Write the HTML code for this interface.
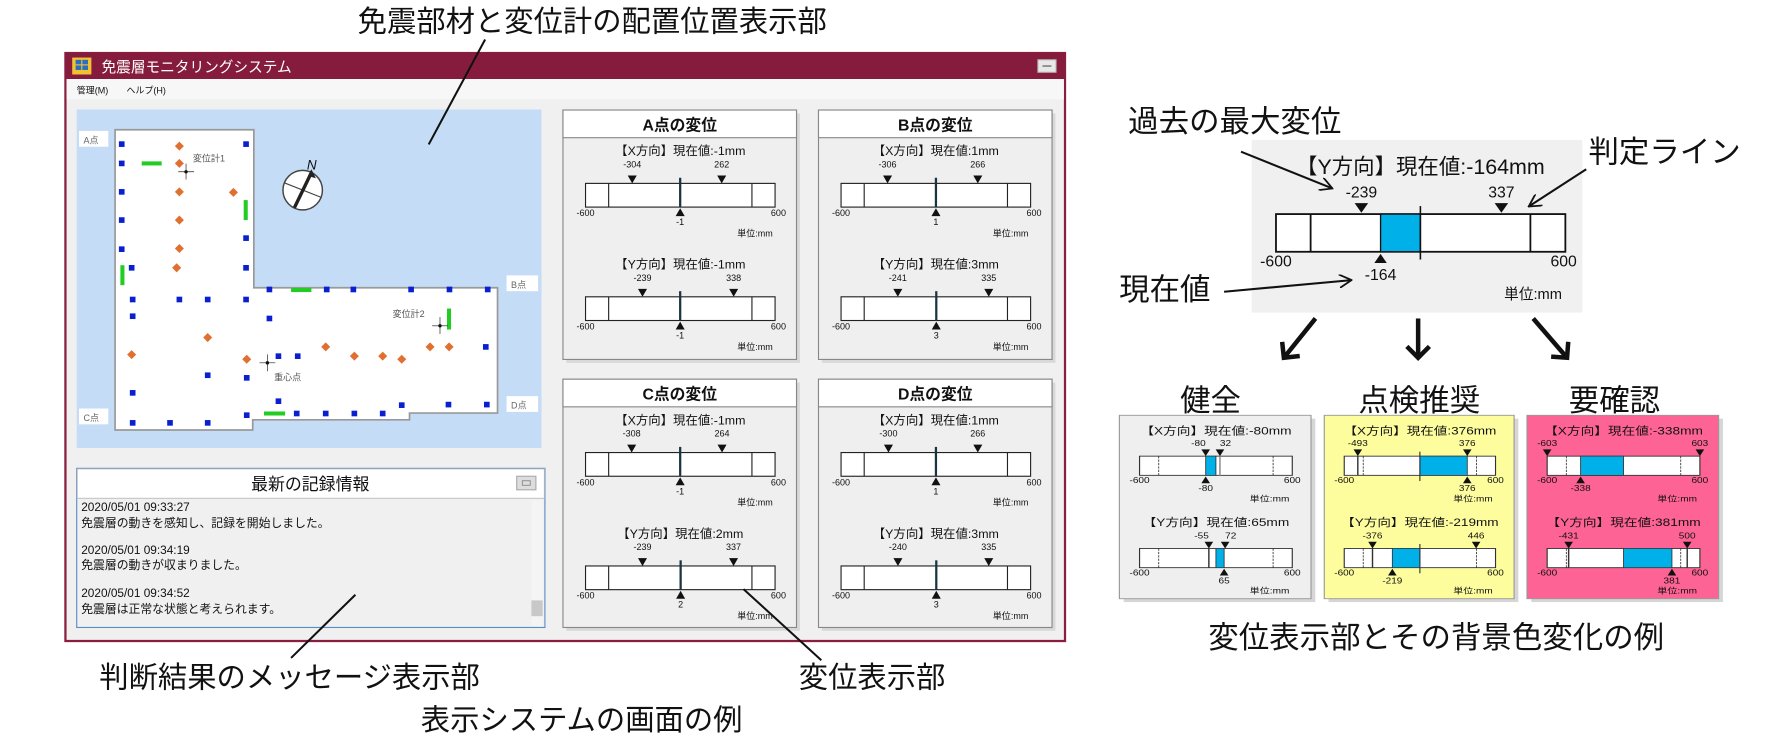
<!DOCTYPE html>
<html><head><meta charset="utf-8"><style>
html,body{margin:0;padding:0;background:#fff;width:1769px;height:755px;overflow:hidden}
svg{display:block}
text{font-family:"Liberation Sans","Noto Sans CJK JP",sans-serif;fill:#111}
.t8{font-size:8px}.t7{font-size:7px}
</style></head><body>
<svg width="1769" height="755" viewBox="0 0 1568 669" preserveAspectRatio="none" xmlns="http://www.w3.org/2000/svg">
<defs>
<g id="bar"><rect x="20" y="0" width="168" height="21" fill="#fff" stroke="#222" stroke-width="1"/><line x1="40.5" y1="0" x2="40.5" y2="21" stroke="#222"/><line x1="167.5" y1="0" x2="167.5" y2="21" stroke="#222"/></g>
<g id="sbar"><rect x="14" y="0" width="106" height="17" fill="#fff" stroke="#333" stroke-width="0.8"/><line x1="27.3" y1="0" x2="27.3" y2="17" stroke="#333" stroke-width="0.6" stroke-dasharray="2,1"/><line x1="106.7" y1="0" x2="106.7" y2="17" stroke="#333" stroke-width="0.6" stroke-dasharray="2,1"/></g>
<marker id="ah" markerWidth="12" markerHeight="12" refX="11" refY="6" orient="auto" markerUnits="userSpaceOnUse"><path d="M0,0 L11,6 L0,12" fill="none" stroke="#111" stroke-width="1.6"/></marker>
<marker id="bh" markerWidth="24" markerHeight="24" refX="12" refY="12" orient="auto" markerUnits="userSpaceOnUse"><path d="M2,2 L12,12 L2,22" fill="none" stroke="#111" stroke-width="4"/></marker>
</defs>

<!-- top caption -->
<text x="317" y="28" style="font-size:26px">免震部材と変位計の配置位置表示部</text>

<!-- window -->
<rect x="58" y="47" width="886" height="521" fill="#f0f0f0" stroke="#8a1e3e" stroke-width="2"/>
<rect x="58" y="47" width="886" height="23" fill="#861c3d"/>
<rect x="64" y="51" width="17" height="15" fill="#f2c230"/><rect x="67" y="53" width="11" height="9" fill="#2a6fc0"/><line x1="72.5" y1="53" x2="72.5" y2="62" stroke="#f2c230"/><line x1="67" y1="57.5" x2="78" y2="57.5" stroke="#f2c230"/>
<text x="90" y="64" style="font-size:13px;fill:#fff">免震層モニタリングシステム</text>
<rect x="920" y="53" width="16" height="11" fill="#e8e8e8" stroke="#bbb"/><line x1="924" y1="58.5" x2="932" y2="58.5" stroke="#555"/>
<rect x="59" y="70" width="884" height="18" fill="#f7f7f7"/>
<text x="68" y="83" class="t8">管理(M)</text><text x="112" y="83" class="t8">ヘルプ(H)</text>

<!-- map -->
<rect x="68" y="97" width="412" height="300" fill="#c4dcf6"/>
<polygon points="102,115 225,115 225,255 441,255 441,366 363,366 363,372 224,372 224,381 102,381" fill="#fff" stroke="#999" stroke-width="1.5"/>
<rect x="70" y="116" width="26" height="14" fill="#fff"/><text x="74" y="127" class="t8" style="fill:#666">A点</text>
<rect x="449" y="244" width="28" height="14" fill="#fff"/><text x="453" y="255" class="t8" style="fill:#666">B点</text>
<rect x="70" y="362" width="26" height="14" fill="#fff"/><text x="74" y="373" class="t8" style="fill:#666">C点</text>
<rect x="449" y="351" width="28" height="14" fill="#fff"/><text x="453" y="362" class="t8" style="fill:#666">D点</text>
<g fill="#0a1fd0">
<rect x="105.4" y="125.2" width="5" height="5"/><rect x="215.6" y="125.2" width="5" height="5"/><rect x="105.4" y="142.3" width="5" height="5"/><rect x="105.4" y="167.5" width="5" height="5"/><rect x="105.4" y="192.5" width="5" height="5"/><rect x="215.6" y="208.5" width="5" height="5"/><rect x="105.4" y="218.3" width="5" height="5"/><rect x="114.2" y="234.8" width="5" height="5"/><rect x="215.6" y="234.8" width="5" height="5"/><rect x="115.1" y="262.9" width="5" height="5"/><rect x="156.5" y="262.9" width="5" height="5"/><rect x="181.6" y="262.9" width="5" height="5"/><rect x="215.6" y="262.9" width="5" height="5"/><rect x="115.1" y="277.7" width="5" height="5"/><rect x="236.3" y="279.7" width="5" height="5"/><rect x="236.3" y="254" width="5" height="5"/><rect x="287.1" y="254" width="5" height="5"/><rect x="310.7" y="254" width="5" height="5"/><rect x="361.9" y="254" width="5" height="5"/><rect x="395.9" y="254" width="5" height="5"/><rect x="429.8" y="254" width="5" height="5"/><rect x="428.1" y="304.9" width="5" height="5"/><rect x="244.3" y="313.1" width="5" height="5"/><rect x="261.4" y="313.1" width="5" height="5"/><rect x="181.6" y="330" width="5" height="5"/><rect x="216.2" y="332.3" width="5" height="5"/><rect x="115.1" y="345.6" width="5" height="5"/><rect x="244.3" y="353" width="5" height="5"/><rect x="353.6" y="356.5" width="5" height="5"/><rect x="395" y="356" width="5" height="5"/><rect x="429" y="356" width="5" height="5"/><rect x="115.1" y="372.2" width="5" height="5"/><rect x="148.2" y="372.2" width="5" height="5"/><rect x="181.6" y="372.2" width="5" height="5"/><rect x="216.2" y="365.4" width="5" height="5"/><rect x="260.5" y="363.9" width="5" height="5"/><rect x="286.2" y="363.9" width="5" height="5"/><rect x="311.6" y="363.9" width="5" height="5"/><rect x="336.7" y="363.9" width="5" height="5"/>
</g>
<g fill="#e07030">
<path d="M159,125.5l4,4-4,4-4-4z"/><path d="M159,140.8l4,4-4,4-4-4z"/><path d="M159,166l4,4-4,4-4-4z"/><path d="M206.9,166.5l4,4-4,4-4-4z"/><path d="M159,191l4,4-4,4-4-4z"/><path d="M159,216.2l4,4-4,4-4-4z"/><path d="M156.6,233.3l4,4-4,4-4-4z"/><path d="M184.1,295.1l4,4-4,4-4-4z"/><path d="M116.7,310.2l4,4-4,4-4-4z"/><path d="M218.7,314.3l4,4-4,4-4-4z"/><path d="M288.7,303.4l4,4-4,4-4-4z"/><path d="M314.1,311.6l4,4-4,4-4-4z"/><path d="M339.2,311.6l4,4-4,4-4-4z"/><path d="M356.1,314.3l4,4-4,4-4-4z"/><path d="M381.2,303.4l4,4-4,4-4-4z"/><path d="M398.1,303.4l4,4-4,4-4-4z"/>
</g>
<g fill="#22cc22">
<rect x="125.6" y="143" width="17.7" height="3.6"/><rect x="216" y="177.3" width="3.6" height="17.7"/><rect x="106.7" y="235" width="3.6" height="17.7"/><rect x="258" y="255.2" width="18" height="3.6"/><rect x="396.2" y="273.4" width="3.6" height="18.6"/><rect x="234" y="364.6" width="18.7" height="3.6"/>
</g>
<g stroke="#222" stroke-width="0.6">
<line x1="158" y1="152.2" x2="172" y2="152.2"/><line x1="164.9" y1="145" x2="164.9" y2="159"/>
<line x1="383" y1="288.7" x2="397" y2="288.7"/><line x1="390" y1="281" x2="390" y2="296"/>
<line x1="230" y1="321.5" x2="244" y2="321.5"/><line x1="237" y1="314" x2="237" y2="329"/>
</g>
<circle cx="164.9" cy="152.2" r="1.5" fill="#111"/><circle cx="390" cy="288.7" r="1.5" fill="#111"/><circle cx="237" cy="321.5" r="1.5" fill="#111"/>
<text x="171" y="143" class="t8" style="fill:#555">変位計1</text>
<text x="348" y="281" class="t8" style="fill:#555">変位計2</text>
<text x="243" y="337" class="t8" style="fill:#555">重心点</text>
<circle cx="268.3" cy="168.5" r="17.5" fill="#fff" stroke="#444" stroke-width="1.3"/>
<line x1="252" y1="162" x2="285" y2="175" stroke="#444" stroke-width="1"/>
<line x1="261" y1="184" x2="276" y2="153" stroke="#222" stroke-width="3"/>
<path d="M276,150 l4,8 l-7,-2z" fill="#222"/>
<text x="272" y="150" style="font-size:12px;font-style:italic">N</text>
<line x1="430" y1="35" x2="380" y2="128" stroke="#111" stroke-width="1.8"/>

<!-- message panel -->
<rect x="68" y="415" width="415" height="141" fill="#f0f0f0" stroke="#5a8cc8" stroke-width="1"/>
<rect x="68.5" y="415.5" width="414" height="26" fill="#fff" stroke="#bbb" stroke-width="0.8"/>
<text x="275" y="434" text-anchor="middle" style="font-size:15px">最新の記録情報</text>
<rect x="458" y="422" width="17" height="12" fill="#ddd" stroke="#aaa"/><rect x="463" y="426" width="7" height="4" fill="none" stroke="#888" stroke-width="0.8"/>
<rect x="471" y="443" width="10" height="112" fill="#f4f4f4"/><rect x="471" y="532" width="10" height="14" fill="#c8c8c8"/>
<g style="font-size:10.5px">
<text x="72" y="453">2020/05/01 09:33:27</text><text x="72" y="467">免震層の動きを感知し、記録を開始しました。</text>
<text x="72" y="491">2020/05/01 09:34:19</text><text x="72" y="504">免震層の動きが収まりました。</text>
<text x="72" y="529">2020/05/01 09:34:52</text><text x="72" y="543">免震層は正常な状態と考えられます。</text>
</g>

<!-- gauge panels -->
<g transform="translate(499,97.5)">
<rect x="3" y="3" width="207" height="221" fill="#d8d8d8"/>
<rect x="0" y="0" width="207" height="221" fill="#efefef" stroke="#888"/>
<rect x="0" y="0" width="207" height="24.5" fill="#fff" stroke="#888"/>
<text x="103.5" y="18" text-anchor="middle" style="font-size:14px;font-weight:bold">A点の変位</text>
<g transform="translate(0,65)"><use href="#bar"/>
<text x="104" y="-25" text-anchor="middle" style="font-size:11px">【X方向】現在値:-1mm</text>
<text x="61.4" y="-14" text-anchor="middle" class="t8">-304</text><text x="140.7" y="-14" text-anchor="middle" class="t8">262</text>
<path d="M57.4,-7h8l-4,7z M136.7,-7h8l-4,7z" fill="#111"/>
<line x1="103.9" y1="-5" x2="103.9" y2="21" stroke="#1b3540" stroke-width="2"/><path d="M99.9,29h8l-4,-7z" fill="#111"/>
<text x="12" y="29" class="t8">-600</text><text x="191" y="29" text-anchor="middle" class="t8">600</text>
<text x="103.9" y="37" text-anchor="middle" class="t8">-1</text><text x="186" y="47" text-anchor="end" class="t8">単位:mm</text></g>
<g transform="translate(0,165.5)"><use href="#bar"/>
<text x="104" y="-25" text-anchor="middle" style="font-size:11px">【Y方向】現在値:-1mm</text>
<text x="70.5" y="-14" text-anchor="middle" class="t8">-239</text><text x="151.3" y="-14" text-anchor="middle" class="t8">338</text>
<path d="M66.5,-7h8l-4,7z M147.3,-7h8l-4,7z" fill="#111"/>
<line x1="103.9" y1="-5" x2="103.9" y2="21" stroke="#1b3540" stroke-width="2"/><path d="M99.9,29h8l-4,-7z" fill="#111"/>
<text x="12" y="29" class="t8">-600</text><text x="191" y="29" text-anchor="middle" class="t8">600</text>
<text x="103.9" y="37" text-anchor="middle" class="t8">-1</text><text x="186" y="47" text-anchor="end" class="t8">単位:mm</text></g>
</g>
<g transform="translate(725.5,97.5)">
<rect x="3" y="3" width="207" height="221" fill="#d8d8d8"/>
<rect x="0" y="0" width="207" height="221" fill="#efefef" stroke="#888"/>
<rect x="0" y="0" width="207" height="24.5" fill="#fff" stroke="#888"/>
<text x="103.5" y="18" text-anchor="middle" style="font-size:14px;font-weight:bold">B点の変位</text>
<g transform="translate(0,65)"><use href="#bar"/>
<text x="104" y="-25" text-anchor="middle" style="font-size:11px">【X方向】現在値:1mm</text>
<text x="61.2" y="-14" text-anchor="middle" class="t8">-306</text><text x="141.2" y="-14" text-anchor="middle" class="t8">266</text>
<path d="M57.2,-7h8l-4,7z M137.2,-7h8l-4,7z" fill="#111"/>
<line x1="104.1" y1="-5" x2="104.1" y2="21" stroke="#1b3540" stroke-width="2"/><path d="M100.1,29h8l-4,-7z" fill="#111"/>
<text x="12" y="29" class="t8">-600</text><text x="191" y="29" text-anchor="middle" class="t8">600</text>
<text x="104.1" y="37" text-anchor="middle" class="t8">1</text><text x="186" y="47" text-anchor="end" class="t8">単位:mm</text></g>
<g transform="translate(0,165.5)"><use href="#bar"/>
<text x="104" y="-25" text-anchor="middle" style="font-size:11px">【Y方向】現在値:3mm</text>
<text x="70.3" y="-14" text-anchor="middle" class="t8">-241</text><text x="150.9" y="-14" text-anchor="middle" class="t8">335</text>
<path d="M66.3,-7h8l-4,7z M146.9,-7h8l-4,7z" fill="#111"/>
<line x1="104.4" y1="-5" x2="104.4" y2="21" stroke="#1b3540" stroke-width="2"/><path d="M100.4,29h8l-4,-7z" fill="#111"/>
<text x="12" y="29" class="t8">-600</text><text x="191" y="29" text-anchor="middle" class="t8">600</text>
<text x="104.4" y="37" text-anchor="middle" class="t8">3</text><text x="186" y="47" text-anchor="end" class="t8">単位:mm</text></g>
</g>
<g transform="translate(499,336)">
<rect x="3" y="3" width="207" height="220" fill="#d8d8d8"/>
<rect x="0" y="0" width="207" height="220" fill="#efefef" stroke="#888"/>
<rect x="0" y="0" width="207" height="24.5" fill="#fff" stroke="#888"/>
<text x="103.5" y="18" text-anchor="middle" style="font-size:14px;font-weight:bold">C点の変位</text>
<g transform="translate(0,65)"><use href="#bar"/>
<text x="104" y="-25" text-anchor="middle" style="font-size:11px">【X方向】現在値:-1mm</text>
<text x="60.9" y="-14" text-anchor="middle" class="t8">-308</text><text x="141" y="-14" text-anchor="middle" class="t8">264</text>
<path d="M56.9,-7h8l-4,7z M137,-7h8l-4,7z" fill="#111"/>
<line x1="103.9" y1="-5" x2="103.9" y2="21" stroke="#1b3540" stroke-width="2"/><path d="M99.9,29h8l-4,-7z" fill="#111"/>
<text x="12" y="29" class="t8">-600</text><text x="191" y="29" text-anchor="middle" class="t8">600</text>
<text x="103.9" y="37" text-anchor="middle" class="t8">-1</text><text x="186" y="47" text-anchor="end" class="t8">単位:mm</text></g>
<g transform="translate(0,165.5)"><use href="#bar"/>
<text x="104" y="-25" text-anchor="middle" style="font-size:11px">【Y方向】現在値:2mm</text>
<text x="70.5" y="-14" text-anchor="middle" class="t8">-239</text><text x="151.2" y="-14" text-anchor="middle" class="t8">337</text>
<path d="M66.5,-7h8l-4,7z M147.2,-7h8l-4,7z" fill="#111"/>
<line x1="104.3" y1="-5" x2="104.3" y2="21" stroke="#1b3540" stroke-width="2"/><path d="M100.3,29h8l-4,-7z" fill="#111"/>
<text x="12" y="29" class="t8">-600</text><text x="191" y="29" text-anchor="middle" class="t8">600</text>
<text x="104.3" y="37" text-anchor="middle" class="t8">2</text><text x="186" y="47" text-anchor="end" class="t8">単位:mm</text></g>
</g>
<g transform="translate(725.5,336)">
<rect x="3" y="3" width="207" height="220" fill="#d8d8d8"/>
<rect x="0" y="0" width="207" height="220" fill="#efefef" stroke="#888"/>
<rect x="0" y="0" width="207" height="24.5" fill="#fff" stroke="#888"/>
<text x="103.5" y="18" text-anchor="middle" style="font-size:14px;font-weight:bold">D点の変位</text>
<g transform="translate(0,65)"><use href="#bar"/>
<text x="104" y="-25" text-anchor="middle" style="font-size:11px">【X方向】現在値:1mm</text>
<text x="62" y="-14" text-anchor="middle" class="t8">-300</text><text x="141.2" y="-14" text-anchor="middle" class="t8">266</text>
<path d="M58,-7h8l-4,7z M137.2,-7h8l-4,7z" fill="#111"/>
<line x1="104.1" y1="-5" x2="104.1" y2="21" stroke="#1b3540" stroke-width="2"/><path d="M100.1,29h8l-4,-7z" fill="#111"/>
<text x="12" y="29" class="t8">-600</text><text x="191" y="29" text-anchor="middle" class="t8">600</text>
<text x="104.1" y="37" text-anchor="middle" class="t8">1</text><text x="186" y="47" text-anchor="end" class="t8">単位:mm</text></g>
<g transform="translate(0,165.5)"><use href="#bar"/>
<text x="104" y="-25" text-anchor="middle" style="font-size:11px">【Y方向】現在値:3mm</text>
<text x="70.4" y="-14" text-anchor="middle" class="t8">-240</text><text x="150.9" y="-14" text-anchor="middle" class="t8">335</text>
<path d="M66.4,-7h8l-4,7z M146.9,-7h8l-4,7z" fill="#111"/>
<line x1="104.4" y1="-5" x2="104.4" y2="21" stroke="#1b3540" stroke-width="2"/><path d="M100.4,29h8l-4,-7z" fill="#111"/>
<text x="12" y="29" class="t8">-600</text><text x="191" y="29" text-anchor="middle" class="t8">600</text>
<text x="104.4" y="37" text-anchor="middle" class="t8">3</text><text x="186" y="47" text-anchor="end" class="t8">単位:mm</text></g>
</g>

<!-- left captions -->
<line x1="315" y1="527" x2="258" y2="583" stroke="#111" stroke-width="1.8"/>
<text x="88" y="609" style="font-size:26px">判断結果のメッセージ表示部</text>
<line x1="659" y1="522" x2="728" y2="585" stroke="#111" stroke-width="1.8"/>
<text x="708" y="609" style="font-size:26px">変位表示部</text>
<text x="373" y="647" style="font-size:26px">表示システムの画面の例</text>

<!-- right big gauge -->
<rect x="1109.5" y="124" width="293" height="153" fill="#f0f0f0"/>
<text x="1259" y="154" text-anchor="middle" style="font-size:19px">【Y方向】現在値:-164mm</text>
<text x="1206.7" y="175" text-anchor="middle" style="font-size:14px">-239</text><text x="1330.8" y="175" text-anchor="middle" style="font-size:14px">337</text>
<path d="M1200.7,180h12l-6,8.5z M1324.8,180h12l-6,8.5z" fill="#111"/>
<rect x="1131" y="189.7" width="256.5" height="33.4" fill="#fff" stroke="#111" stroke-width="1.6"/>
<rect x="1223.7" y="189.7" width="35.3" height="33.4" fill="#00b0e8" stroke="#111" stroke-width="1.2"/>
<line x1="1161.7" y1="189.7" x2="1161.7" y2="223.1" stroke="#111" stroke-width="1.6"/>
<line x1="1356.5" y1="189.7" x2="1356.5" y2="223.1" stroke="#111" stroke-width="1.6"/>
<line x1="1259" y1="182.6" x2="1259" y2="230" stroke="#111" stroke-width="1.4"/>
<text x="1131" y="236" text-anchor="middle" style="font-size:14px">-600</text><text x="1386" y="236" text-anchor="middle" style="font-size:14px">600</text>
<path d="M1218.2,233h11l-5.5,-8z" fill="#111"/>
<text x="1223.7" y="248" text-anchor="middle" style="font-size:14px">-164</text>
<text x="1384.5" y="265" text-anchor="end" style="font-size:13px">単位:mm</text>
<text x="1000" y="117" style="font-size:27px">過去の最大変位</text>
<text x="1408" y="144" style="font-size:27px">判定ライン</text>
<text x="992" y="266" style="font-size:27px">現在値</text>
<line x1="1100" y1="134.4" x2="1181" y2="167" stroke="#111" stroke-width="1.8" marker-end="url(#ah)"/>
<line x1="1406" y1="150" x2="1355" y2="183" stroke="#111" stroke-width="1.8" marker-end="url(#ah)"/>
<line x1="1085" y1="258.5" x2="1198" y2="248.2" stroke="#111" stroke-width="1.8" marker-end="url(#ah)"/>
<line x1="1166" y1="282.2" x2="1138" y2="317" stroke="#111" stroke-width="4" marker-end="url(#bh)"/>
<line x1="1257" y1="282.2" x2="1257" y2="317" stroke="#111" stroke-width="4" marker-end="url(#bh)"/>
<line x1="1359" y1="282.2" x2="1389" y2="317" stroke="#111" stroke-width="4" marker-end="url(#bh)"/>

<!-- status titles -->
<text x="1073" y="364" text-anchor="middle" style="font-size:27px">健全</text>
<text x="1258" y="364" text-anchor="middle" style="font-size:27px">点検推奨</text>
<text x="1431" y="364" text-anchor="middle" style="font-size:27px">要確認</text>

<!-- 健全 -->
<g transform="translate(992.2,368) scale(1.277,1)">
<rect x="3" y="3" width="133" height="162.5" fill="#d6d6d6"/>
<rect x="0" y="0" width="133" height="162.5" fill="#efefef" stroke="#999" stroke-width="0.8"/>
<text x="67" y="17" text-anchor="middle" style="font-size:9.5px">【X方向】現在値:-80mm</text>
<g transform="translate(0,36.2)"><use href="#sbar"/>
<rect x="59.9" y="0" width="7.1" height="17" fill="#00b0e8" stroke="#333" stroke-width="0.6"/><line x1="69.8" y1="0" x2="69.8" y2="17" stroke="#888"/>
<text x="59.9" y="-9" text-anchor="end" class="t7">-80</text><text x="69.8" y="-9" class="t7">32</text>
<path d="M56.9,-6h6l-3,6z M66.8,-6h6l-3,6z" fill="#111"/><path d="M56.9,24h6l-3,-6z" fill="#111"/>
<text x="14" y="24" text-anchor="middle" class="t7">-600</text><text x="120" y="24" text-anchor="middle" class="t7">600</text>
<text x="59.9" y="31" text-anchor="middle" class="t7">-80</text><text x="118" y="40" text-anchor="end" class="t7">単位:mm</text></g>
<text x="67" y="98" text-anchor="middle" style="font-size:9.5px">【Y方向】現在値:65mm</text>
<g transform="translate(0,118)"><use href="#sbar"/>
<rect x="67" y="0" width="5.7" height="17" fill="#00b0e8" stroke="#333" stroke-width="0.6"/><line x1="62.1" y1="0" x2="62.1" y2="17" stroke="#333"/>
<text x="62.1" y="-9" text-anchor="end" class="t7">-55</text><text x="73.4" y="-9" class="t7">72</text>
<path d="M59.1,-6h6l-3,6z M70.4,-6h6l-3,6z" fill="#111"/><path d="M69.7,24h6l-3,-6z" fill="#111"/>
<text x="14" y="24" text-anchor="middle" class="t7">-600</text><text x="120" y="24" text-anchor="middle" class="t7">600</text>
<text x="72.7" y="31" text-anchor="middle" class="t7">65</text><text x="118" y="40" text-anchor="end" class="t7">単位:mm</text></g>
</g>
<!-- 点検推奨 -->
<g transform="translate(1173.8,368) scale(1.265,1)">
<rect x="3" y="3" width="133" height="162.5" fill="#d6d6d6"/>
<rect x="0" y="0" width="133" height="162.5" fill="#fdfd9e" stroke="#999" stroke-width="0.8"/>
<text x="67" y="17" text-anchor="middle" style="font-size:9.5px">【X方向】現在値:376mm</text>
<g transform="translate(0,36.2)"><use href="#sbar"/>
<rect x="67" y="0" width="33.2" height="17" fill="#00b0e8" stroke="#333" stroke-width="0.6"/><line x1="23.5" y1="0" x2="23.5" y2="17" stroke="#333"/>
<line x1="67" y1="-4" x2="67" y2="22" stroke="#333" stroke-width="0.8"/>
<text x="23.5" y="-9" text-anchor="middle" class="t7">-493</text><text x="100.2" y="-9" text-anchor="middle" class="t7">376</text>
<path d="M20.5,-6h6l-3,6z M97.2,-6h6l-3,6z" fill="#111"/><path d="M97.2,24h6l-3,-6z" fill="#111"/>
<text x="14" y="24" text-anchor="middle" class="t7">-600</text><text x="120" y="24" text-anchor="middle" class="t7">600</text>
<text x="100.2" y="31" text-anchor="middle" class="t7">376</text><text x="118" y="40" text-anchor="end" class="t7">単位:mm</text></g>
<text x="67" y="98" text-anchor="middle" style="font-size:9.5px">【Y方向】現在値:-219mm</text>
<g transform="translate(0,118)"><use href="#sbar"/>
<rect x="47.7" y="0" width="19.3" height="17" fill="#00b0e8" stroke="#333" stroke-width="0.6"/><line x1="33.8" y1="0" x2="33.8" y2="17" stroke="#333"/>
<line x1="67" y1="-4" x2="67" y2="22" stroke="#333" stroke-width="0.8"/>
<text x="33.8" y="-9" text-anchor="middle" class="t7">-376</text><text x="106.4" y="-9" text-anchor="middle" class="t7">446</text>
<path d="M30.8,-6h6l-3,6z M103.4,-6h6l-3,6z" fill="#111"/><path d="M44.7,24h6l-3,-6z" fill="#111"/>
<text x="14" y="24" text-anchor="middle" class="t7">-600</text><text x="120" y="24" text-anchor="middle" class="t7">600</text>
<text x="47.7" y="31" text-anchor="middle" class="t7">-219</text><text x="118" y="40" text-anchor="end" class="t7">単位:mm</text></g>
</g>
<!-- 要確認 -->
<g transform="translate(1353.5,368) scale(1.277,1)">
<rect x="3" y="3" width="133" height="162.5" fill="#d6d6d6"/>
<rect x="0" y="0" width="133" height="162.5" fill="#fd6394" stroke="#999" stroke-width="0.8"/>
<text x="67" y="17" text-anchor="middle" style="font-size:9.5px">【X方向】現在値:-338mm</text>
<g transform="translate(0,36.2)"><use href="#sbar"/>
<rect x="37.2" y="0" width="29.8" height="17" fill="#00b0e8" stroke="#333" stroke-width="0.6"/>
<text x="14" y="-9" text-anchor="middle" class="t7">-603</text><text x="120" y="-9" text-anchor="middle" class="t7">603</text>
<path d="M11,-6h6l-3,6z M117,-6h6l-3,6z" fill="#111"/><path d="M34.2,24h6l-3,-6z" fill="#111"/>
<text x="14" y="24" text-anchor="middle" class="t7">-600</text><text x="120" y="24" text-anchor="middle" class="t7">600</text>
<text x="37.2" y="31" text-anchor="middle" class="t7">-338</text><text x="118" y="40" text-anchor="end" class="t7">単位:mm</text></g>
<text x="67" y="98" text-anchor="middle" style="font-size:9.5px">【Y方向】現在値:381mm</text>
<g transform="translate(0,118)"><use href="#sbar"/>
<rect x="67" y="0" width="33.6" height="17" fill="#00b0e8" stroke="#333" stroke-width="0.6"/><line x1="28.9" y1="0" x2="28.9" y2="17" stroke="#333"/><line x1="111.2" y1="0" x2="111.2" y2="17" stroke="#333"/>
<text x="28.9" y="-9" text-anchor="middle" class="t7">-431</text><text x="111.2" y="-9" text-anchor="middle" class="t7">500</text>
<path d="M25.9,-6h6l-3,6z M108.2,-6h6l-3,6z" fill="#111"/><path d="M97.6,24h6l-3,-6z" fill="#111"/>
<text x="14" y="24" text-anchor="middle" class="t7">-600</text><text x="120" y="24" text-anchor="middle" class="t7">600</text>
<text x="100.6" y="31" text-anchor="middle" class="t7">381</text><text x="118" y="40" text-anchor="end" class="t7">単位:mm</text></g>
</g>
<text x="1071" y="574" style="font-size:27px">変位表示部とその背景色変化の例</text>
</svg>
</body></html>
